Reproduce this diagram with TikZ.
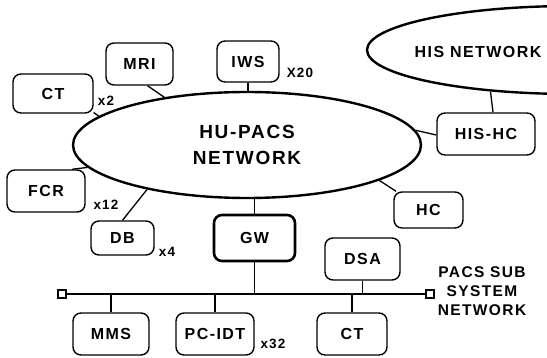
\documentclass[tikz,border=0pt]{standalone}
\usepackage{fontspec}
\setmainfont{Liberation Sans}[LetterSpace=9]
\usepackage{tikz}
\usetikzlibrary{shapes.geometric}

\begin{document}
\begin{tikzpicture}[x=1pt,y=-1pt,
        unit/.style={draw,rounded corners=8pt,line width=1.4pt,inner sep=0pt,
            font=\fontsize{16}{18}\selectfont\bfseries},
        net/.style={draw,ellipse,line width=2.4pt,inner sep=0pt},
        count/.style={inner sep=0pt,font=\fontsize{13.5}{15}\selectfont\bfseries},
        port/.style={draw,line width=1.5pt,minimum size=8pt,inner sep=0pt},
        link/.style={line width=1.3pt},
        bus/.style={line width=2.6pt}]
        \useasboundingbox (0,0) rectangle (547,358);
        \clip (0,0) rectangle (547,358);
        % networks
        \node[net,minimum width=348,minimum height=106,align=center,
            font=\fontsize{19}{26}\selectfont\bfseries] (hupacs) at (247,145) {HU-PACS\\NETWORK};
        \node[net,minimum width=410,minimum height=88] (his) at (572,50) {};
        \node[inner sep=0pt,font=\fontsize{16}{18}\selectfont\bfseries] (histext) at (478,52) {HIS NETWORK};
        % units round the HU-PACS network
        \node[unit,minimum width=80,minimum height=39] (ct) at (53,93.5) {CT};
        \node[unit,minimum width=67,minimum height=42] (mri) at (139.5,64) {MRI};
        \node[unit,minimum width=62,minimum height=41] (iws) at (248,61.5) {IWS};
        \node[unit,minimum width=78,minimum height=42] (fcr) at (46,191) {FCR};
        \node[unit,minimum width=63,minimum height=34] (db) at (122.5,238) {DB};
        \node[unit,minimum width=81,minimum height=46,line width=2.6pt] (gw) at (254.5,238) {GW};
        \node[unit,minimum width=69,minimum height=36] (hc) at (428.5,210) {HC};
        \node[unit,minimum width=98,minimum height=42] (hishc) at (486,134) {HIS-HC};
        % multiplicities
        \node[count] (nct) at (106,101) {x2};
        \node[count] (niws) at (300,73) {X20};
        \node[count] (nfcr) at (106,205) {x12};
        \node[count] (ndb) at (167,252) {x4};
        \node[count] (npc) at (273,344) {x32};
        % sub system network
        \node[port] (busl) at (62,294) {};
        \node[port] (busr) at (430,294) {};
        \node[unit,minimum width=76,minimum height=42] (mms) at (111,334) {MMS};
        \node[unit,minimum width=78,minimum height=42] (pcidt) at (215,334) {PC-IDT};
        \node[unit,minimum width=70,minimum height=42] (ct2) at (352,334) {CT};
        \node[unit,minimum width=75,minimum height=42] (dsa) at (362.5,259) {DSA};
        \node[align=center,inner sep=0pt,font=\fontsize{15.5}{19}\selectfont\bfseries]
            (subnet) at (482,291) {PACS SUB\\SYSTEM\\NETWORK};
        % connections
        \draw[link] (ct.-25) -- (hupacs.169);
        \draw[link] ([xshift=8pt]mri.south) -- (hupacs.150);
        \draw[link] (iws.south) -- (iws.south |- hupacs.north);
        \draw[link] (fcr.40) -- (hupacs.188);
        \draw[link] (db.north) -- (hupacs.204);
        \draw[link] (gw.north) -- (gw.north |- hupacs.south);
        \draw[link] (hc.150) -- (hupacs.-15);
        \draw[link] (hishc.west) ++(0,1) -- (hupacs.5);
        \draw[link] ([xshift=7pt]hishc.north) -- (his.207);
        \draw[bus] (busl) -- (busr);
        \draw[link] (gw.south) -- (gw.south |- busl);
        \draw[link] (mms.north) -- (mms.north |- busl);
        \draw[link] (pcidt.north) -- (pcidt.north |- busl);
        \draw[link] (ct2.north) -- (ct2.north |- busl);
        \draw[link] (dsa.south) -- (dsa.south |- busl);
    \end{tikzpicture}
\end{document}
